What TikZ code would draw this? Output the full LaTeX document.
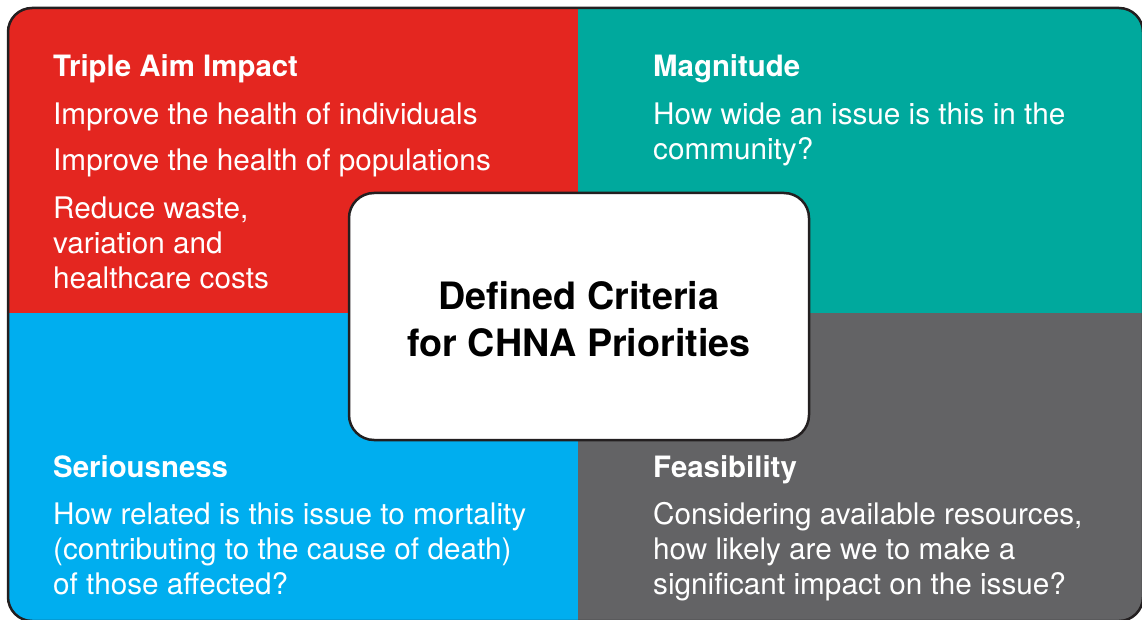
\documentclass[tikz,border=0pt]{standalone}
\usepackage{fontspec}
\setmainfont{TeX Gyre Heros}
\definecolor{aimred}{HTML}{E42620}
\definecolor{magteal}{HTML}{00A99D}
\definecolor{serblue}{HTML}{00AEEF}
\definecolor{feasgray}{HTML}{636365}
\definecolor{edgeblack}{HTML}{231F20}
\tikzset{
  heading/.style={anchor=base west, inner sep=0pt, text=white,
    font=\fontsize{29.4}{35}\selectfont\bfseries},
  bodytext/.style={anchor=base west, inner sep=0pt, text=white, align=left,
    font=\fontsize{29.7}{35}\selectfont},
  centrebox/.style={draw=edgeblack, fill=white, line width=2.5pt,
    rounded corners=25pt},
  centrelabel/.style={align=center, text=black, inner sep=0pt,
    font=\fontsize{37.7}{47}\selectfont\bfseries}
}
\begin{document}
\begin{tikzpicture}[x=1pt,y=-1pt]
  \useasboundingbox (0,0) rectangle (1142,620);
  % quarters
  \begin{scope}
    \clip[rounded corners=24pt] (8,8) rectangle (1143,621);
    \fill[aimred]   (8,8)     rectangle (578,313);
    \fill[magteal]  (578,8)   rectangle (1143,313);
    \fill[serblue]  (8,313)   rectangle (578,621);
    \fill[feasgray] (578,313) rectangle (1143,621);
  \end{scope}
  \draw[edgeblack, line width=2.5pt, rounded corners=24pt] (8,8) rectangle (1143,621);
  % top left (multi-line nodes sit on their last baseline)
  \node (aim) [heading] at (53,77) {Triple Aim Impact};
  \node (aimone) [bodytext] at (53,125) {Improve the health of individuals};
  \node (aimtwo) [bodytext] at (53,171) {Improve the health of populations};
  \node (aimthree) [bodytext] at (53,288) {Reduce waste,\\variation and\\healthcare costs};
  % top right
  \node (mag) [heading] at (653,77) {Magnitude};
  \node (magtext) [bodytext] at (653,160) {How wide an issue is this in the\\community?};
  % bottom left
  \node (ser) [heading] at (53,477) {Seriousness};
  \node (sertext) [bodytext] at (53,594) {How related is this issue to mortality\\(contributing to the cause of death)\\of those affected?};
  % bottom right
  \node (feas) [heading] at (653,477) {Feasibility};
  \node (feastext) [bodytext] at (653,594) {Considering available resources,\\how likely are we to make a\\significant impact on the issue?};
  % centre
  \node (centre) [centrebox, minimum width=460pt, minimum height=247pt] at (579,316.5) {};
  \node (centretext) [centrelabel] at ([yshift=-3pt]centre.center)
    {Defined Criteria\\for CHNA Priorities};
\end{tikzpicture}
\end{document}
